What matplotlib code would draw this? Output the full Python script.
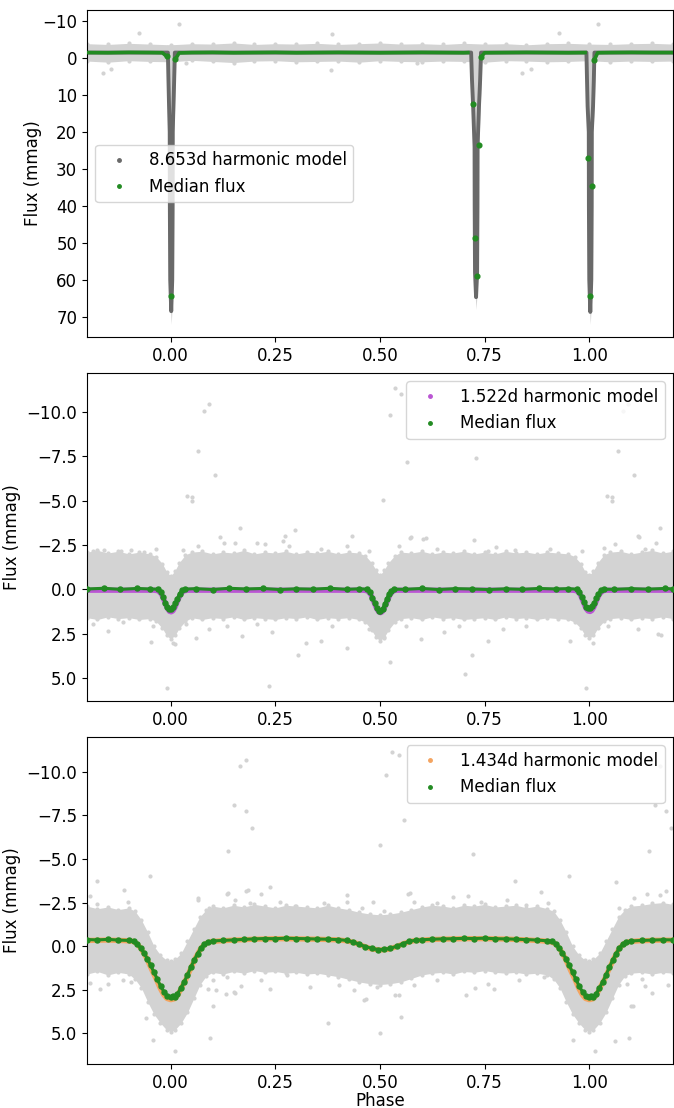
import numpy as np
import matplotlib
matplotlib.use('Agg')
import matplotlib.pyplot as plt
from matplotlib.lines import Line2D
from matplotlib.ticker import MultipleLocator, FormatStrFormatter

plt.rcParams['font.size'] = 12

# ---------------- 8.653d system ----------------
p1_band_phase = [-0.2, -0.15, -0.1, -0.05, 0.0, 0.05, 0.1, 0.15, 0.2, 0.25, 0.3, 0.35, 0.4, 0.45, 0.5,
                 0.55, 0.6, 0.65, 0.7, 0.75, 0.8, 0.85, 0.9, 0.95, 1.0, 1.05, 1.1, 1.15, 1.2]
p1_band_top = [-3.9, -3.7, -4.0, -3.8, -3.6, -3.9, -3.8, -4.1, -3.7, -3.9, -3.8, -4.0, -3.7, -3.9, -4.1,
               -3.8, -3.9, -3.7, -4.0, -3.8, -3.9, -3.6, -3.9, -4.0, -3.8, -3.7, -3.9, -4.0, -3.8]
p1_band_bottom = [0.8, 1.1, 0.7, 0.9, 1.0, 0.6, 0.9, 1.2, 0.8, 0.7, 1.0, 0.9, 0.8, 1.1, 0.7,
                  0.9, 1.0, 0.8, 0.9, 1.1, 0.7, 0.8, 1.0, 0.9, 0.7, 1.0, 0.8, 0.9, 0.8]

# deepest observed points inside each eclipse
p1_dip_phase = [[-0.0098, -0.0084, -0.007, -0.0054, -0.0051, -0.0042, 0.0012, 0.0066, 0.0075, 0.0078, 0.0095, 0.0112, 0.0128],
                [0.7147, 0.7168, 0.7195, 0.7229, 0.7232, 0.724, 0.7295, 0.735, 0.7358, 0.7361, 0.7395, 0.7422, 0.7443],
                [0.9902, 0.9916, 0.993, 0.9958, 0.9961, 0.997, 1.0024, 1.0078, 1.0087, 1.009, 1.012, 1.0138, 1.0154]]
p1_dip_flux = [[-1.5, 6, 13, 20, 40, 60, 72, 60, 40, 20, 13, 6, -1.5],
               [-1.5, 6, 13, 24, 40, 58, 68, 58, 40, 24, 13, 6, -1.5],
               [-1.5, 6, 13, 20, 40, 60, 72, 60, 40, 20, 13, 6, -1.5]]

p1_out_phase = [-0.076, 0.019, -0.162, -0.142, 0.385, 0.382, 0.927, 1.021, 0.840, 0.861, 0.588, 0.036]
p1_out_flux = [-6.8, -9.1, 3.96, 3.05, -6.5, 3.3, -6.8, -9.1, 3.96, 3.05, 1.2, 1.3]

p1_model_phase = [-0.2,
                  -0.0068, -0.0054, -0.004, -0.0024, -0.0021, -0.0012, 0.0012, 0.0036, 0.0045, 0.0048, 0.0065, 0.0082, 0.0098,
                  0.7177, 0.7198, 0.7225, 0.7259, 0.7262, 0.727, 0.7295, 0.732, 0.7328, 0.7331, 0.7365, 0.7392, 0.7413,
                  0.9932, 0.9946, 0.996, 0.9988, 0.9991, 1.0, 1.0024, 1.0048, 1.0057, 1.006, 1.009, 1.0108, 1.0124,
                  1.2]
p1_model_flux = [-1.5,
                 -1.5, 6, 13, 20, 40, 60, 68.5, 60, 40, 20, 13, 6, -1.5,
                 -1.5, 6, 13, 24, 40, 58, 64.7, 58, 40, 24, 13, 6, -1.5,
                 -1.5, 6, 13, 20, 40, 60, 68.7, 60, 40, 20, 13, 6, -1.5,
                 -1.5]

p1_med_phase = [-0.2, -0.15, -0.1, -0.05, -0.02, -0.010, 0.0, 0.011, 0.02, 0.05, 0.1, 0.15, 0.2, 0.25,
                0.3, 0.35, 0.4, 0.45, 0.5, 0.55, 0.6, 0.65, 0.7, 0.71, 0.723, 0.726, 0.731, 0.737, 0.742,
                0.75, 0.8, 0.85, 0.9, 0.95, 0.99, 0.998, 1.002, 1.007, 1.012, 1.02, 1.05, 1.1, 1.15, 1.2]
p1_med_flux = [-1.5, -1.45, -1.55, -1.5, -1.45, -0.5, 64.3, 0.35, -1.4, -1.5, -1.55, -1.45, -1.5, -1.55,
               -1.45, -1.5, -1.55, -1.5, -1.45, -1.5, -1.55, -1.5, -1.45, -1.5, 12.4, 48.6, 59.1, 23.5, -0.35,
               -1.45, -1.5, -1.55, -1.5, -1.45, -1.5, 27.1, 64.4, 34.5, 0.54, -1.45, -1.5, -1.55, -1.5, -1.5]

# ---------------- 1.522d system ----------------
p2_band_phase = [-0.2, -0.175, -0.15, -0.125, -0.1, -0.075, -0.05, -0.035, -0.02, -0.01, 0.0, 0.01, 0.02,
                 0.035, 0.05, 0.075, 0.1, 0.125, 0.15, 0.175, 0.2, 0.225, 0.25, 0.275, 0.3, 0.325, 0.35,
                 0.375, 0.4, 0.425, 0.45, 0.465, 0.48, 0.49, 0.5, 0.51, 0.52, 0.535, 0.55, 0.575, 0.6,
                 0.625, 0.65, 0.675, 0.7, 0.725, 0.75, 0.775, 0.8, 0.825, 0.85, 0.875, 0.9, 0.925, 0.95,
                 0.965, 0.98, 0.99, 1.0, 1.01, 1.02, 1.035, 1.05, 1.075, 1.1, 1.125, 1.15, 1.175, 1.2]
p2_band_top = [-2.1, -2.2, -2.05, -2.15, -2.0, -2.1, -2.0, -1.85, -1.45, -1.0, -0.75, -1.05, -1.5,
               -1.95, -2.1, -2.15, -2.0, -2.1, -2.05, -2.2, -2.0, -2.1, -2.05, -2.15, -2.0, -2.1, -2.05,
               -2.15, -2.0, -2.1, -2.05, -1.9, -1.5, -1.1, -0.8, -1.1, -1.5, -1.9, -2.1, -2.05, -2.15,
               -2.0, -2.1, -2.05, -2.15, -2.0, -2.1, -2.0, -2.15, -2.05, -2.1, -2.0, -2.1, -2.05, -2.0,
               -1.85, -1.45, -1.0, -0.8, -1.05, -1.5, -1.95, -2.1, -2.15, -2.0, -2.1, -2.2, -2.05, -2.15]
p2_band_bottom = [1.6, 1.7, 1.55, 1.65, 1.6, 1.7, 1.65, 1.8, 2.2, 2.6, 2.8, 2.6, 2.2,
                  1.8, 1.6, 1.7, 1.6, 1.65, 1.55, 1.7, 1.6, 1.65, 1.7, 1.6, 1.65, 1.55, 1.7,
                  1.6, 1.65, 1.6, 1.7, 1.85, 2.3, 2.7, 2.9, 2.7, 2.3, 1.85, 1.65, 1.6, 1.7,
                  1.55, 1.65, 1.6, 1.7, 1.65, 1.6, 1.7, 1.55, 1.65, 1.6, 1.7, 1.6, 1.65, 1.7,
                  1.85, 2.2, 2.6, 2.75, 2.6, 2.2, 1.8, 1.65, 1.6, 1.7, 1.6, 1.65, 1.55, 1.65]

p2_out_phase = [0.079, 0.092, 0.064, 0.106, 0.040, 0.052, 0.052, 0.166, 0.297, 0.117, 0.274, -0.009,
                0.235, 0.304, -0.046, 0.011, 0.06, 0.537, 0.549, 0.523, 0.565, 0.730, 0.508, 1.068,
                1.107, 1.081, 1.092, 1.043, 1.054, 1.054, 1.169, 0.434, 0.574, 0.610, 1.119, 0.421,
                0.524, 0.703, 0.719, 0.993, 1.171, 0.153, 0.207, 0.225, 0.064, -0.096, -0.176, 0.358,
                0.545, 0.603, 0.724, 0.777, 0.906, 1.116, 1.16, -0.185, -0.15, 0.006, 0.091, 0.171,
                0.323, 0.358, 0.51, 0.599, 0.759, 0.955, 1.009, 1.165, 1.116,
                -0.185, -0.159, -0.119, -0.065, -0.034, 0.029, 0.127, 0.269, 0.283, 0.421, 0.474,
                0.572, 0.635, 0.759, 0.822, 0.982, 1.036, 1.062, 1.134,
                -0.114, -0.043, 0.037, 0.135, 0.207, 0.242, 0.385, 0.474, 0.563, 0.652, 0.688,
                0.795, 0.848, 1.045]
p2_out_flux = [-10.05, -10.44, -7.82, -6.46, -5.28, -5.22, -4.96, -3.45, -3.35, -2.98, -3.0, 5.56,
               5.43, 3.68, 2.98, 3.07, 2.77, -11.37, -11.03, -9.84, -7.2, -7.41, -5.03, -7.82,
               -6.46, -10.05, -10.46, -5.28, -5.2, -4.96, -3.45, -3.0, -2.97, -2.92, -2.98, 3.3,
               4.11, 4.77, 3.68, 5.56, 2.6, -2.62, -2.62, -2.53, -2.43, -2.21, -2.15, -2.25,
               -2.43, -2.85, -2.81, -2.4, -2.25, -3.0, -2.62, 1.97, 2.34, 3.0, 2.25, 2.62,
               3.0, 2.9, 2.77, 2.81, 2.9, 2.9, 3.0, 2.53, 2.25,
               -2.15, -2.21, -2.15, -2.10, -2.25, -2.21, -2.62, -2.72, -2.43, -2.43, -2.15,
               -2.90, -2.25, -2.15, -2.21, -2.15, -2.34, -2.53, -2.28,
               1.87, 2.06, 1.97, 2.06, 1.97, 2.40, 2.06, 2.25, 2.06, 2.43, 2.06,
               2.25, 2.06, 2.06]

p2_model_phase = [-0.2, -0.04, -0.03, -0.022, -0.015, -0.008, -0.003, 0.001, 0.005, 0.01, 0.016, 0.023, 0.03, 0.04,
                  0.46, 0.47, 0.478, 0.485, 0.492, 0.497, 0.501, 0.505, 0.51, 0.517, 0.524, 0.532, 0.54,
                  0.96, 0.97, 0.978, 0.985, 0.992, 0.997, 1.002, 1.006, 1.011, 1.017, 1.024, 1.032, 1.04, 1.2]
p2_model_flux = [0.05, 0.05, 0.08, 0.27, 0.67, 1.07, 1.24, 1.27, 1.22, 1.02, 0.67, 0.3, 0.1, 0.05,
                 0.05, 0.08, 0.29, 0.69, 1.09, 1.27, 1.32, 1.27, 1.07, 0.69, 0.29, 0.08, 0.05,
                 0.05, 0.08, 0.27, 0.67, 1.07, 1.22, 1.25, 1.2, 1.0, 0.65, 0.28, 0.09, 0.05, 0.05]

p2_med_phase = [-0.2, -0.16, -0.12, -0.08, -0.05,
                -0.03, -0.024, -0.018, -0.013, -0.008, -0.003, 0.001, 0.006, 0.011, 0.016, 0.021, 0.027, 0.033,
                0.06, 0.1, 0.14, 0.18, 0.22, 0.26, 0.3, 0.34, 0.38, 0.42, 0.45,
                0.47, 0.476, 0.482, 0.487, 0.492, 0.497, 0.501, 0.506, 0.511, 0.516, 0.521, 0.527, 0.533,
                0.56, 0.6, 0.64, 0.68, 0.72, 0.76, 0.8, 0.84, 0.88, 0.92, 0.95,
                0.97, 0.976, 0.982, 0.987, 0.992, 0.997, 1.002, 1.007, 1.012, 1.017, 1.022, 1.028, 1.034,
                1.06, 1.1, 1.14, 1.18, 1.2]
p2_med_flux = [-0.02, -0.06, 0.0, -0.05, -0.02,
               -0.01, 0.15, 0.45, 0.75, 1.02, 1.12, 1.13, 1.0, 0.79, 0.52, 0.25, 0.06, -0.01,
               -0.04, 0.01, -0.06, -0.02, -0.05, 0.01, -0.03, -0.01, -0.06, 0.0, -0.03,
               -0.01, 0.15, 0.47, 0.78, 1.05, 1.2, 1.23, 1.1, 0.85, 0.55, 0.27, 0.07, -0.01,
               0.0, -0.05, 0.01, -0.04, -0.02, 0.01, -0.03, 0.0, -0.05, -0.02, -0.04,
               -0.01, 0.14, 0.42, 0.72, 0.97, 1.07, 1.08, 0.95, 0.75, 0.5, 0.24, 0.06, -0.01,
               0.0, -0.04, -0.01, -0.05, -0.02]

# ---------------- 1.434d system ----------------
p3_band_phase = [-0.2, -0.175, -0.15, -0.125, -0.1, -0.085, -0.07, -0.055, -0.04, -0.025, -0.01, 0.0,
                 0.01, 0.025, 0.04, 0.055, 0.07, 0.085, 0.1, 0.125, 0.15, 0.175, 0.2, 0.225, 0.25,
                 0.275, 0.3, 0.325, 0.35, 0.375, 0.4, 0.425, 0.45, 0.475, 0.5, 0.525, 0.55, 0.575,
                 0.6, 0.625, 0.65, 0.675, 0.7, 0.725, 0.75, 0.775, 0.8, 0.825, 0.85, 0.875, 0.9,
                 0.915, 0.93, 0.945, 0.96, 0.975, 0.99, 1.0, 1.01, 1.025, 1.04, 1.055, 1.07, 1.085,
                 1.1, 1.125, 1.15, 1.175, 1.2]
p3_band_top = [-2.3, -2.15, -2.25, -2.1, -2.2, -2.0, -1.5, -0.8, 0.0, 0.5, 0.8, 0.85,
               0.75, 0.4, -0.3, -1.0, -1.7, -2.1, -2.3, -2.2, -2.35, -2.25, -2.4, -2.3, -2.2,
               -2.35, -2.3, -2.25, -2.2, -2.35, -2.2, -2.1, -1.95, -1.85, -1.8, -1.85, -1.95, -2.1,
               -2.25, -2.35, -2.3, -2.2, -2.35, -2.3, -2.4, -2.25, -2.3, -2.35, -2.2, -2.3, -2.15,
               -2.0, -1.5, -0.8, 0.0, 0.5, 0.8, 0.85, 0.75, 0.4, -0.3, -1.0, -1.7, -2.1,
               -2.3, -2.35, -2.45, -2.5, -2.4]
p3_band_bottom = [1.6, 1.45, 1.65, 1.5, 1.6, 1.9, 2.4, 3.2, 3.9, 4.4, 4.8, 4.9,
                  4.8, 4.4, 3.8, 3.0, 2.2, 1.7, 1.5, 1.6, 1.45, 1.55, 1.4, 1.5, 1.45,
                  1.55, 1.5, 1.6, 1.55, 1.65, 1.75, 1.9, 2.05, 2.15, 2.2, 2.15, 2.05, 1.85,
                  1.65, 1.55, 1.5, 1.6, 1.45, 1.5, 1.4, 1.5, 1.55, 1.5, 1.6, 1.55, 1.65,
                  1.9, 2.4, 3.2, 3.9, 4.4, 4.8, 4.9, 4.8, 4.4, 3.8, 3.0, 2.2, 1.7,
                  1.55, 1.5, 1.6, 1.5, 1.55]

p3_out_phase = [0.181, 0.166, 0.152, 0.181, 0.195, 0.138, -0.050, -0.177, -0.112, 0.138, 0.184, 0.236,
                0.064, 0.216, -0.192, -0.042, 0.011, 0.093, 0.376, -0.060, 0.101, 0.151, 0.133, 0.238,
                0.089, 0.529, 0.545, 0.515, 0.558, 0.722, 0.500, 0.951, 1.156, 1.142, 1.183, 1.196,
                1.169, 0.823, 0.572, 1.065, 0.500, 0.551, 0.726, 0.960, 1.014, 1.096, 1.105, 0.467,
                0.545, 0.134, 0.18, 0.42, 0.483, 0.568, 0.675, 0.71, 0.884, 1.138, 1.183, -0.168,
                -0.194, -0.096, 0.109, 0.153, 0.167, 0.461, 0.537, 0.706, 0.773, 1.062, 1.1, 1.151,
                1.134, 1.187,
                -0.176, -0.101, 0.064, 0.091, 0.153, 0.189, 0.26, 0.296, 0.367, 0.421, 0.456, 0.51,
                0.581, 0.635, 0.742, 0.804, 0.848, 0.902, 1.071, 1.107, 1.169,
                -0.15, -0.114, 0.1, 0.135, 0.216, 0.278, 0.332, 0.403, 0.439, 0.492, 0.581, 0.635,
                0.759, 0.831, 0.893, 1.089, 1.125]
p3_out_flux = [-10.69, -10.33, -8.09, -7.75, -6.78, -5.46, -4.03, -3.74, -3.21, -3.07, -3.25, -3.4,
               -2.77, -3.02, -2.88, 5.38, 6.01, 5.25, 4.43, 4.14, 3.44, 2.62, 2.77, 2.48,
               2.48, -11.15, -10.98, -9.83, -7.22, -5.31, -5.78, -4.03, -8.08, -5.44, -7.75, -6.78,
               -10.31, -3.74, -3.07, -3.68, 4.96, 4.05, 2.42, 5.38, 6.01, 5.29, 3.44, 3.05,
               2.8, -3.0, -3.16, -2.94, -2.52, -3.0, -2.84, -2.88, -3.13, -3.0, -3.16, 2.48,
               2.11, 2.05, 2.52, 2.71, 2.3, 3.09, 2.8, 2.8, 2.43, 5.44, 3.46, 2.71,
               2.3, 2.24,
               -2.41, -2.56, -2.66, -2.19, -2.66, -2.47, -2.56, -2.28, -2.47, -2.56, -2.19, -2.0,
               -2.56, -2.47, -2.56, -2.66, -2.37, -2.47, -2.19, -2.75, -2.94,
               2.15, 1.96, 1.96, 1.77, 1.96, 1.68, 2.33, 2.24, 2.52, 2.33, 2.24, 1.96,
               2.15, 1.96, 1.77, 2.15, 1.86]

p3_model_phase = [-0.2, -0.15, -0.11, -0.09, -0.08, -0.07, -0.058, -0.045, -0.034, -0.025, -0.017, -0.009,
                  0.0, 0.009, 0.017, 0.027, 0.037, 0.048, 0.06, 0.072, 0.082, 0.095, 0.12, 0.16, 0.2,
                  0.25, 0.3, 0.35, 0.4, 0.42, 0.44, 0.46, 0.48, 0.5, 0.52, 0.54, 0.56, 0.58, 0.62,
                  0.66, 0.7, 0.75, 0.8, 0.85, 0.88, 0.9, 0.91, 0.92, 0.93, 0.942, 0.955, 0.966, 0.975,
                  0.983, 0.991, 1.0, 1.009, 1.017, 1.027, 1.037, 1.048, 1.06, 1.072, 1.082, 1.095,
                  1.12, 1.16, 1.2]
p3_model_flux = [-0.33, -0.35, -0.32, -0.28, -0.13, 0.17, 0.67, 1.37, 1.92, 2.42, 2.77, 3.0,
                 3.07, 3.02, 2.8, 2.32, 1.87, 1.27, 0.64, 0.12, -0.13, -0.26, -0.31, -0.36, -0.4,
                 -0.43, -0.42, -0.4, -0.36, -0.31, -0.2, -0.01, 0.16, 0.22, 0.18, 0.02, -0.18, -0.31, -0.38,
                 -0.41, -0.43, -0.43, -0.41, -0.36, -0.32, -0.28, -0.23, -0.13, 0.17, 0.67, 1.37, 1.92, 2.42,
                 2.77, 3.0, 3.07, 3.02, 2.8, 2.32, 1.87, 1.27, 0.64, 0.12, -0.13, -0.26,
                 -0.31, -0.34, -0.35]

p3_med_phase = [-0.2, -0.175, -0.15, -0.125, -0.1, -0.088,
                -0.08, -0.072, -0.064, -0.056, -0.048, -0.04, -0.032, -0.024, -0.016, -0.008, 0.0, 0.005,
                0.01, 0.016, 0.024, 0.032, 0.04, 0.048, 0.056, 0.064, 0.072, 0.08, 0.088,
                0.1, 0.125, 0.15, 0.175, 0.2, 0.225, 0.25, 0.275, 0.3, 0.325, 0.35, 0.375, 0.4, 0.42,
                0.435, 0.45, 0.465, 0.48, 0.495, 0.51, 0.525, 0.54, 0.555, 0.57, 0.585, 0.6, 0.625,
                0.65, 0.675, 0.7, 0.725, 0.75, 0.775, 0.8, 0.825, 0.85, 0.875, 0.9, 0.912,
                0.92, 0.928, 0.936, 0.944, 0.952, 0.96, 0.968, 0.976, 0.984, 0.992, 1.0, 1.005,
                1.01, 1.016, 1.024, 1.032, 1.04, 1.048, 1.056, 1.064, 1.072, 1.08, 1.088,
                1.1, 1.125, 1.15, 1.175, 1.2]
p3_med_flux = [-0.38, -0.36, -0.39, -0.35, -0.33, -0.3,
               -0.12, 0.1, 0.38, 0.72, 1.1, 1.5, 1.9, 2.3, 2.62, 2.85, 2.92, 2.88,
               2.9, 2.75, 2.4, 2.05, 1.65, 1.2, 0.8, 0.42, 0.1, -0.12, -0.22,
               -0.3, -0.33, -0.36, -0.39, -0.42, -0.44, -0.43, -0.46, -0.44, -0.43, -0.41, -0.4, -0.38, -0.33,
               -0.25, -0.12, 0.02, 0.12, 0.19, 0.18, 0.12, 0.0, -0.15, -0.28, -0.34, -0.37, -0.4,
               -0.42, -0.43, -0.45, -0.44, -0.46, -0.43, -0.42, -0.4, -0.38, -0.35, -0.31, -0.28,
               -0.12, 0.1, 0.38, 0.72, 1.1, 1.5, 1.9, 2.3, 2.62, 2.85, 2.9, 2.86,
               2.9, 2.75, 2.4, 2.05, 1.65, 1.2, 0.8, 0.42, 0.1, -0.12, -0.22,
               -0.3, -0.33, -0.35, -0.37, -0.36]

data_color = 'lightgray'
median_color = 'forestgreen'


def draw_band(ax, phase, top, bottom, out_phase, out_flux):
    ax.fill_between(phase, top, bottom, color=data_color, lw=0, zorder=1)
    ax.scatter(phase, top, s=9, color=data_color, lw=0, zorder=1)
    ax.scatter(phase, bottom, s=9, color=data_color, lw=0, zorder=1)
    ax.scatter(out_phase, out_flux, s=9, color=data_color, lw=0, zorder=1)


def finish(ax, ylim, ystep, model_label, model_color, legend_loc, labelpad=4):
    ax.set_xlim(-0.2, 1.2)
    ax.set_ylim(*ylim)
    ax.xaxis.set_major_locator(MultipleLocator(0.25))
    ax.xaxis.set_major_formatter(FormatStrFormatter('%.2f'))
    ax.yaxis.set_major_locator(MultipleLocator(ystep))
    ax.set_ylabel('Flux (mmag)', labelpad=labelpad)
    handles = [Line2D([0], [0], ls='', marker='o', ms=2.5, color=model_color),
               Line2D([0], [0], ls='', marker='o', ms=2.5, color=median_color)]
    ax.legend(handles, [model_label, 'Median flux'], loc=legend_loc)


fig = plt.figure(figsize=(6.74, 11.08), dpi=100)
ax1 = fig.add_axes([0.1291, 0.6958, 0.8694, 0.2951])
ax2 = fig.add_axes([0.1291, 0.3673, 0.8694, 0.2960])
ax3 = fig.add_axes([0.1291, 0.0397, 0.8694, 0.2951])

# top panel
draw_band(ax1, p1_band_phase, p1_band_top, p1_band_bottom, p1_out_phase, p1_out_flux)
for ph, fl in zip(p1_dip_phase, p1_dip_flux):
    ax1.fill_between(ph, -3.5, fl, color=data_color, lw=0, zorder=1)
ax1.plot(p1_model_phase, p1_model_flux, color='dimgray', lw=2.8, zorder=2,
         solid_joinstyle='round', solid_capstyle='round')
med1 = np.array(p1_med_flux)
flat1 = np.where(med1 < 3, med1, np.nan)
ax1.plot(p1_med_phase, flat1, color=median_color, lw=2.6, zorder=3)
in_ecl = (med1 > -1.0)
ax1.plot(np.array(p1_med_phase)[in_ecl], med1[in_ecl], ls='', marker='o', ms=3.4,
         color=median_color, zorder=3)
finish(ax1, (75.5, -13), 10, '8.653d harmonic model', 'dimgray', 'center left', labelpad=0)

# middle panel
draw_band(ax2, p2_band_phase, p2_band_top, p2_band_bottom, p2_out_phase, p2_out_flux)
ax2.plot(p2_model_phase, p2_model_flux, color='mediumorchid', lw=3.8, zorder=2, solid_joinstyle='round')
ax2.plot(p2_med_phase, p2_med_flux, color=median_color, lw=2.2, marker='o', ms=3.6, zorder=3)
finish(ax2, (6.3, -12.2), 2.5, '1.522d harmonic model', 'mediumorchid', 'upper right')

# bottom panel
draw_band(ax3, p3_band_phase, p3_band_top, p3_band_bottom, p3_out_phase, p3_out_flux)
ax3.plot(p3_model_phase, p3_model_flux, color='sandybrown', lw=3.8, zorder=2, solid_joinstyle='round')
ax3.plot(p3_med_phase, p3_med_flux, color=median_color, lw=2.2, marker='o', ms=3.6, zorder=3)
finish(ax3, (6.76, -12.0), 2.5, '1.434d harmonic model', 'sandybrown', 'upper right')
ax3.set_xlabel('Phase', labelpad=0)

fig.savefig('out.png', dpi=100)
